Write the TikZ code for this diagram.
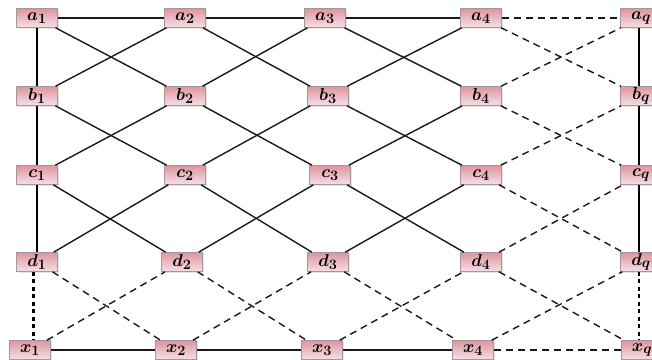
\documentclass[tikz,border=0pt]{standalone}
\usepackage{bm}
\usetikzlibrary{shadows,calc}
\definecolor{boxtop}{RGB}{222,150,158}
\definecolor{boxbot}{RGB}{246,224,230}
\definecolor{boxline}{RGB}{165,150,158}
\tikzset{
  vbox/.style={draw=boxline, line width=0.6pt, top color=boxtop, bottom color=boxbot,
    minimum width=41pt, minimum height=19pt, inner sep=0pt,
    font=\fontsize{19}{21}\selectfont,
    drop shadow={opacity=0.2, shadow xshift=1pt, shadow yshift=-1pt}},
  sline/.style={line width=1.4pt, black!90},
  vline/.style={line width=2pt, black},
  dline/.style={line width=1.4pt, black!90, dash pattern=on 7pt off 5pt},
  dotline/.style={line width=2.3pt, black, dash pattern=on 4pt off 3.5pt},
}
\begin{document}
\begin{tikzpicture}[x=1pt,y=-1pt]
\useasboundingbox (0,0) rectangle (652,359);
% nodes
\node[vbox] (a1) at (37,18) {$\bm{a_1}$};
\node[vbox] (a2) at (185,18) {$\bm{a_2}$};
\node[vbox] (a3) at (325,18) {$\bm{a_3}$};
\node[vbox] (a4) at (481,18) {$\bm{a_4}$};
\node[vbox] (aq) at (641,18) {$\bm{a_q}$};
\node[vbox] (b1) at (37,96) {$\bm{b_1}$};
\node[vbox] (b2) at (185,96) {$\bm{b_2}$};
\node[vbox] (b3) at (328,96) {$\bm{b_3}$};
\node[vbox] (b4) at (481,96) {$\bm{b_4}$};
\node[vbox] (bq) at (641,96) {$\bm{b_q}$};
\node[vbox] (c1) at (37,175) {$\bm{c_1}$};
\node[vbox] (c2) at (185,175) {$\bm{c_2}$};
\node[vbox] (c3) at (330,175) {$\bm{c_3}$};
\node[vbox] (c4) at (481,175) {$\bm{c_4}$};
\node[vbox] (cq) at (641,175) {$\bm{c_q}$};
\node[vbox] (d1) at (37,262) {$\bm{d_1}$};
\node[vbox] (d2) at (182,262) {$\bm{d_2}$};
\node[vbox] (d3) at (328,262) {$\bm{d_3}$};
\node[vbox] (d4) at (481,262) {$\bm{d_4}$};
\node[vbox] (dq) at (641,262) {$\bm{d_q}$};
\node[vbox] (x1) at (30,350) {$\bm{x_1}$};
\node[vbox] (x2) at (176,350) {$\bm{x_2}$};
\node[vbox] (x3) at (322,350) {$\bm{x_3}$};
\node[vbox] (x4) at (473,350) {$\bm{x_4}$};
\node[vbox] (xq) at (642,350) {$\bm{x_q}$};
% horizontal
\draw[sline] (a1) -- (a2); \draw[sline] (a2) -- (a3); \draw[sline] (a3) -- (a4);
\draw[dline] (a4) -- (aq);
\draw[sline] (x1) -- (x2); \draw[sline] (x2) -- (x3); \draw[sline] (x3) -- (x4);
\draw[dline] (x4) -- (xq);
% vertical
\draw[vline] (a1) -- (b1); \draw[vline] (b1) -- (c1); \draw[vline] (c1) -- (d1);
\coordinate (m1) at ($(d1.south)!0.5!(x1.north)$);
\draw[dotline] (d1.south -| m1) -- (x1.north -| m1);
\coordinate (vq) at ($(aq.south west)+(19pt,0)$);
\draw[vline] (aq.south -| vq) -- (bq.north -| vq);
\draw[vline] (bq.south -| vq) -- (cq.north -| vq);
\draw[vline] (cq.south -| vq) -- (dq.north -| vq);
\draw[dotline] (dq.south -| vq) -- (xq.north -| vq);
% diagonals
\foreach \u/\v in {a/b,b/c,c/d}{
  \foreach \i/\j in {1/2,2/3,3/4}{
    \draw[sline] (\u\i) -- (\v\j);
    \draw[sline] (\v\i) -- (\u\j);
  }
  \draw[dline] (\u4) -- (\v q);
  \draw[dline] (\v4) -- (\u q);
}
\foreach \i/\j in {1/2,2/3,3/4,4/q}{
  \draw[dline] (d\i) -- (x\j);
  \draw[dline] (x\i) -- (d\j);
}
\end{tikzpicture}
\end{document}
